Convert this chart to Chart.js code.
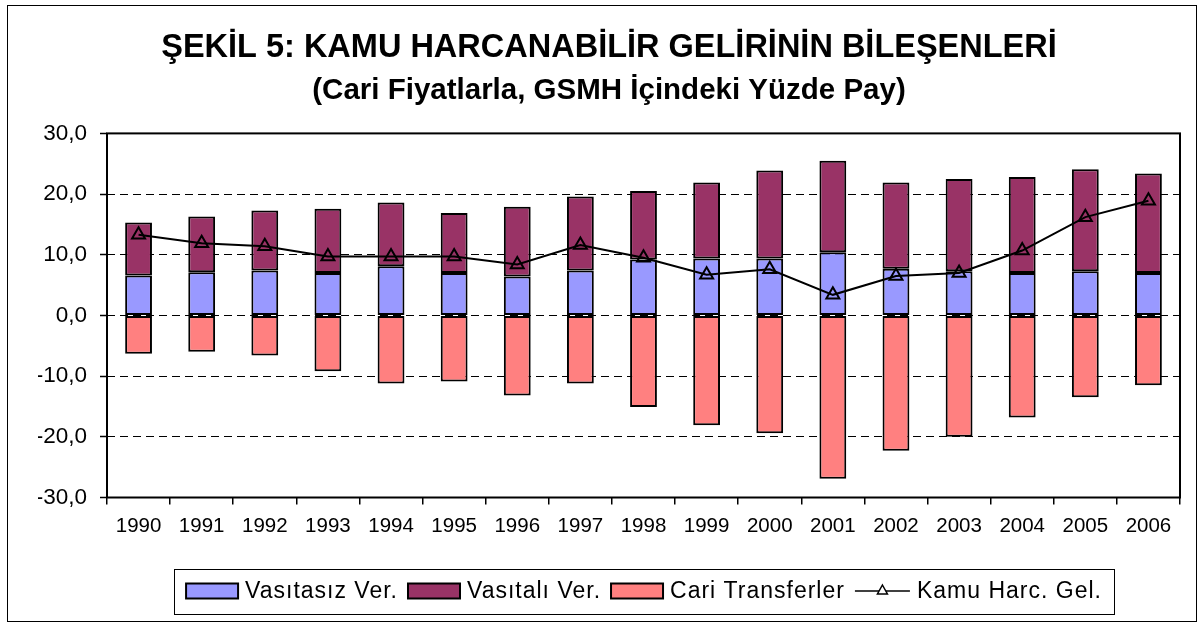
<!DOCTYPE html>
<html>
<head>
<meta charset="utf-8">
<title>Şekil 5</title>
<script src="https://cdn.jsdelivr.net/npm/chart.js@4.4.0/dist/chart.umd.min.js"></script>
<style>
  html, body { margin: 0; padding: 0; background: #fff; }
  #wrap { width: 1199px; height: 623px; position: relative; }
</style>
</head>
<body>
<div id="wrap"><canvas id="sekil5"></canvas></div>
<script>
var years = ["1990", "1991", "1992", "1993", "1994", "1995", "1996", "1997", "1998",
             "1999", "2000", "2001", "2002", "2003", "2004", "2005", "2006"];

// GSMH içindeki yüzde pay
var vasitasizVer = [6.6, 7.1, 7.4, 7.0, 8.1, 7.0, 6.4, 7.4, 9.2, 9.4, 9.4, 10.4, 7.7, 7.3, 7.0, 7.3, 7.0];
var vasitaliVer = [8.7, 9.2, 9.9, 10.6, 10.5, 9.9, 11.5, 12.2, 11.3, 12.5, 14.5, 15.1, 14.2, 15.2, 15.8, 16.8, 16.4];
var cariTransferler = [-6.3, -6.0, -6.6, -9.2, -11.2, -10.9, -13.2, -11.2, -15.1, -18.1, -19.4, -26.9, -22.3, -20.0, -16.8, -13.5, -11.5];
var kamuHarcGel = [13.3, 11.9, 11.4, 9.7, 9.7, 9.7, 8.4, 11.6, 9.5, 6.7, 7.6, 3.4, 6.5, 7.0, 10.7, 16.2, 18.9];

var yTicks = [-30, -20, -10, 0, 10, 20, 30];

var FONT = '"Liberation Sans", Arial, sans-serif';
Chart.defaults.font.family = FONT;
Chart.defaults.color = "#000";

// frame around the plot area and around the whole picture
var framePlugin = {
  id: "frames",
  afterDatasetsDraw: function(chart) {
    var a = chart.chartArea, ctx = chart.ctx;
    ctx.save();
    ctx.strokeStyle = "#000";
    ctx.lineWidth = 2;
    ctx.strokeRect(a.left, a.top, a.right - a.left, a.bottom - a.top);
    ctx.restore();
  },
  afterDraw: function(chart) {
    var ctx = chart.ctx;
    ctx.save();
    ctx.strokeStyle = "#000";
    ctx.lineWidth = 1;
    ctx.strokeRect(7.5, 5.5, 1189, 616);
    ctx.restore();
  }
};

// excel style legend in a box under the axis
var boxLegend = {
  id: "boxLegend",
  afterDraw: function(chart) {
    var ctx = chart.ctx;
    var ds = chart.data.datasets;
    var boxW = 52, boxH = 15, gap = 7, itemGap = 10, lineW = 55;
    var midY = 591, centerX = 644;

    ctx.save();
    ctx.font = "23px " + FONT;
    ctx.letterSpacing = "1px";
    ctx.textBaseline = "middle";

    var widths = ds.map(function(d) {
      var sym = d.type === "line" ? lineW : boxW;
      return sym + gap + ctx.measureText(d.label).width;
    });
    var total = widths.reduce(function(s, w) { return s + w; }, 0) + itemGap * (ds.length - 1);
    var x = centerX - total / 2;

    ctx.strokeStyle = "#000";
    ctx.lineWidth = 1;
    ctx.strokeRect(Math.round(x - 12) + 0.5, 569.5, Math.round(total + 24), 45);

    ds.forEach(function(d, i) {
      if (d.type === "line") {
        ctx.beginPath();
        ctx.moveTo(x, midY);
        ctx.lineTo(x + lineW, midY);
        ctx.lineWidth = 1.5;
        ctx.stroke();
        var cx = x + lineW / 2;
        ctx.beginPath();
        ctx.moveTo(cx, midY - 6);
        ctx.lineTo(cx + 5, midY + 3);
        ctx.lineTo(cx - 5, midY + 3);
        ctx.closePath();
        ctx.fillStyle = "#fff";
        ctx.fill();
        ctx.stroke();
        x += lineW + gap;
      } else {
        ctx.fillStyle = d.backgroundColor;
        ctx.fillRect(x, midY - boxH / 2, boxW, boxH);
        ctx.lineWidth = 2;
        ctx.strokeRect(x, midY - boxH / 2, boxW, boxH);
        x += boxW + gap;
      }
      ctx.fillStyle = "#000";
      ctx.fillText(d.label, x, midY + 1);
      x += widths[i] - (d.type === "line" ? lineW : boxW) - gap + itemGap;
    });
    ctx.restore();
  }
};

new Chart("sekil5", {
  type: "bar",
  data: {
    labels: years,
    datasets: [{
      label: "Vasıtasız Ver.",
      data: vasitasizVer,
      backgroundColor: "#9999FF",
      borderColor: "#000",
      borderWidth: 2,
      borderSkipped: false,
      barPercentage: 0.85,
      categoryPercentage: 0.5,
      stack: "s",
      order: 1
    }, {
      label: "Vasıtalı Ver.",
      data: vasitaliVer,
      backgroundColor: "#993366",
      borderColor: "#000",
      borderWidth: 2,
      borderSkipped: false,
      barPercentage: 0.85,
      categoryPercentage: 0.5,
      stack: "s",
      order: 1
    }, {
      label: "Cari Transferler",
      data: cariTransferler,
      backgroundColor: "#FF8080",
      borderColor: "#000",
      borderWidth: 2,
      borderSkipped: false,
      barPercentage: 0.85,
      categoryPercentage: 0.5,
      stack: "s",
      order: 1
    }, {
      type: "line",
      label: "Kamu Harc. Gel.",
      data: kamuHarcGel,
      borderColor: "#000",
      borderWidth: 2,
      tension: 0,
      fill: false,
      pointStyle: "triangle",
      pointRadius: 7.5,
      pointBorderWidth: 2,
      pointBackgroundColor: "rgba(0,0,0,0)",
      pointBorderColor: "#000",
      stack: "line",
      order: 0
    }]
  },
  options: {
    responsive: true,
    maintainAspectRatio: false,
    animation: false,
    // left padding a bit wider than right so the titles sit where excel put them
    layout: { padding: { left: 38, right: 19, top: 0, bottom: 0 } },
    plugins: {
      legend: { display: false },
      tooltip: { enabled: false },
      title: {
        display: true,
        text: "ŞEKİL 5: KAMU HARCANABİLİR GELİRİNİN BİLEŞENLERİ",
        color: "#000",
        font: { size: 32.5, weight: "bold", lineHeight: 1.2 },
        padding: { top: 29, bottom: 0 }
      },
      subtitle: {
        display: true,
        text: "(Cari Fiyatlarla, GSMH İçindeki Yüzde Pay)",
        color: "#000",
        font: { size: 29.5, weight: "bold", lineHeight: 1.2 },
        padding: { top: 5, bottom: 25 }
      }
    },
    scales: {
      x: {
        stacked: true,
        ticks: { color: "#000", font: { size: 20.5 }, padding: 10, maxRotation: 0, autoSkip: false },
        grid: { drawOnChartArea: false, drawTicks: true, tickLength: 7, color: "#000", lineWidth: 1.5, offset: true },
        border: { display: false },
        afterFit: function(s) { s.height = 125.5; }
      },
      y: {
        stacked: true,
        min: yTicks[0],
        max: yTicks[yTicks.length - 1],
        afterBuildTicks: function(s) {
          s.ticks = yTicks.map(function(v) { return { value: v }; });
        },
        ticks: {
          color: "#000",
          font: { size: 22.5 },
          padding: 13,
          callback: function(v) { return v.toFixed(1).replace(".", ","); }
        },
        grid: { color: "#000", lineWidth: 1, tickLength: 7, tickColor: "#000", tickWidth: 1.5 },
        border: { display: false, dash: [8, 5] },
        afterFit: function(s) { s.width = 69; }
      }
    }
  },
  plugins: [framePlugin, boxLegend]
});
</script>
</body>
</html>
